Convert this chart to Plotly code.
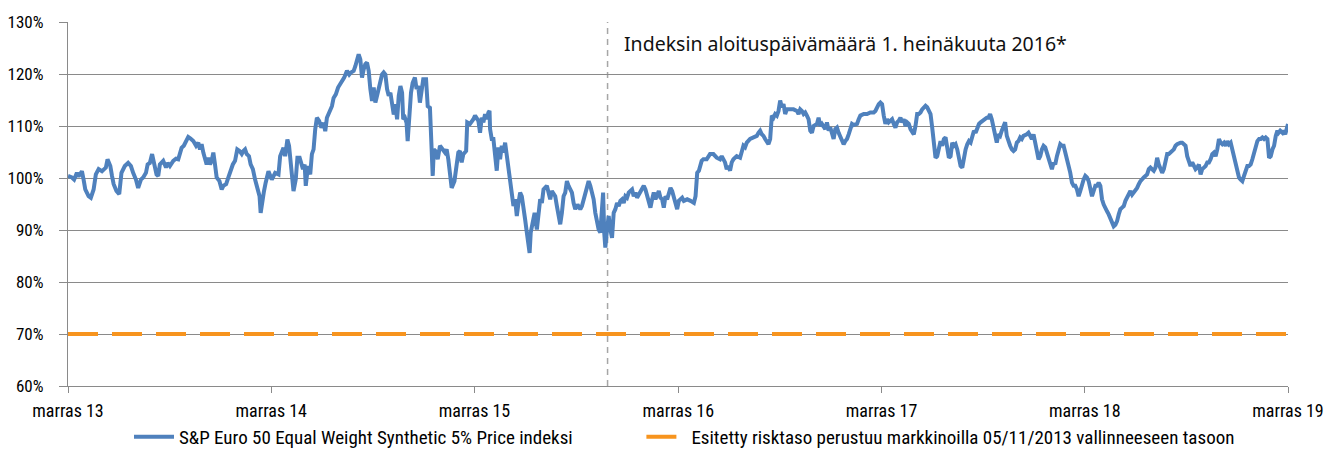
import pandas as pd
import plotly.graph_objects as go

start_date = "2013-11-05"
end_date = "2019-11-05"
index_start_date = "2016-07-01"

# days since start_date, and index level in %
day_offset = [
    0, 7, 11, 16, 19, 25, 28, 31, 37, 41, 46, 50, 55, 61, 65, 68, 71, 76, 79, 82,
    87, 92, 96, 102, 108, 113, 117, 122, 126, 131, 135, 140, 143, 147, 151, 155, 159, 162, 165, 171,
    176, 179, 183, 189, 194, 198, 201, 204, 208, 212, 216, 220, 225, 230, 234, 237, 240, 243, 246, 249,
    252, 255, 258, 261, 264, 267, 272, 276, 279, 284, 288, 292, 296, 300, 304, 308, 312, 315, 318, 321,
    325, 328, 332, 336, 340, 344, 346, 349, 352, 355,
    360, 366, 372, 378, 381, 387, 390, 394, 397, 400, 403, 405, 409, 412, 416, 419, 422, 425, 427, 431,
    435, 438, 441, 444, 447, 451, 455, 459, 462, 465, 469, 474, 477, 481, 485, 489, 492, 496, 501, 505,
    508, 513, 516, 519, 522, 525, 528, 531, 534, 537, 540, 543, 546, 549, 552, 555, 558, 561, 564, 567,
    570, 573, 576, 579, 582, 585, 588, 591, 594, 597, 600, 602, 605, 608, 610, 613, 616, 619, 623, 626,
    629, 632, 635, 638, 643, 646, 650, 653, 655, 657, 660, 664,
    668, 677, 680, 683, 686, 689, 694, 698, 701, 704, 707, 710, 715, 717, 722, 728, 731, 737, 740, 743,
    746, 749, 752, 755, 757, 758, 761, 764, 767, 770, 773, 776, 779, 782, 785, 788, 791, 794, 797, 800,
    803, 806, 809, 812, 815, 818, 821, 824, 827, 829, 831, 835, 838, 842, 845, 848, 851, 854, 860, 863,
    866, 869, 872, 875, 878, 881, 884, 887, 890, 893, 896, 899, 902, 905, 908, 911, 915, 920, 923, 926,
    929, 932, 935, 938, 941, 944, 947, 950, 953, 956, 959, 961, 963, 965, 968, 971, 974, 977, 980, 983,
    986, 989, 992, 995, 998, 1001, 1004, 1007, 1010, 1013, 1016, 1019, 1022, 1025, 1028, 1034, 1037, 1040, 1043, 1046,
    1049, 1052, 1055, 1058, 1061, 1064, 1067, 1070, 1073, 1076, 1079, 1082, 1085, 1088, 1091, 1094, 1097, 1100, 1103, 1106,
    1112, 1118, 1124, 1127, 1130, 1133, 1136, 1138, 1141, 1147, 1153, 1159, 1165, 1171, 1174, 1177, 1180, 1183, 1186, 1189,
    1192, 1195, 1201, 1207, 1210, 1213, 1216, 1219, 1225, 1231, 1237, 1240, 1243, 1246, 1249, 1252, 1255, 1258, 1261, 1264,
    1267, 1270, 1273, 1276, 1279, 1282, 1285, 1288, 1291, 1297, 1303, 1309, 1312, 1315, 1318, 1321, 1324, 1327, 1330, 1333,
    1336, 1339, 1345, 1348, 1351, 1354, 1357, 1360, 1363, 1366, 1369, 1372, 1375, 1378, 1381, 1384, 1387, 1390, 1393, 1396,
    1399, 1402, 1405, 1408, 1411, 1417, 1420, 1423, 1429, 1435, 1441, 1447, 1450, 1453, 1456, 1459,
    1462, 1465, 1468, 1471, 1474, 1477, 1480, 1483, 1486, 1489, 1492, 1495, 1498, 1501, 1504, 1507, 1510, 1513, 1516, 1519,
    1522, 1525, 1528, 1531, 1534, 1537, 1540, 1543, 1546, 1549, 1552, 1555, 1558, 1561, 1564, 1567, 1570, 1573, 1576, 1579,
    1582, 1585, 1588, 1591, 1594, 1597, 1600, 1603, 1606, 1609, 1612, 1615, 1618, 1621, 1624, 1627, 1630, 1633, 1636, 1639,
    1642, 1645, 1647, 1650, 1653, 1656, 1659, 1662, 1665, 1668, 1671, 1674, 1677, 1680, 1683, 1686, 1689, 1692, 1695, 1698,
    1701, 1704, 1707, 1710, 1713, 1716, 1722, 1725, 1728, 1731, 1734, 1737, 1740, 1743, 1746, 1749, 1752, 1755, 1758, 1761,
    1764, 1767, 1770, 1773, 1776, 1779, 1782, 1785, 1788, 1791, 1794, 1797, 1800, 1803, 1806, 1809, 1812, 1815, 1818, 1821,
    1824, 1827, 1830, 1833, 1836, 1839, 1842, 1845, 1848, 1851, 1854, 1857, 1860, 1863, 1866, 1869, 1872, 1875, 1878, 1881,
    1884, 1887, 1890, 1893, 1896, 1899, 1902, 1905, 1908, 1911, 1914, 1917, 1920, 1923, 1926, 1932, 1938, 1941, 1944, 1947,
    1950, 1953, 1956, 1959, 1962, 1965, 1968, 1971, 1974, 1977, 1980, 1986, 1989, 1992, 1998, 2001, 2004, 2007, 2010, 2013,
    2016, 2019, 2022, 2025, 2028, 2031, 2034, 2037, 2040, 2043, 2046, 2049, 2052, 2055, 2058, 2061, 2064, 2067, 2070, 2073,
    2076, 2079, 2082, 2085, 2088, 2091, 2094, 2097, 2100, 2103, 2106, 2109, 2112, 2115, 2118, 2121, 2124, 2127, 2130, 2133,
    2136, 2139, 2142, 2145, 2148, 2151, 2154, 2157, 2160, 2163, 2166, 2169, 2172, 2174, 2177, 2181, 2183, 2186, 2189, 2191,
]

index_level = [
    100.4, 100.1, 99.7, 101.0, 100.3, 101.3, 99.7, 97.8, 96.5, 96.2, 97.8, 100.7, 101.7, 101.3, 101.7, 102.0, 103.6, 102.3, 100.4, 98.8,
    97.5, 96.9, 101.0, 102.3, 102.9, 102.3, 101.0, 99.7, 98.1, 99.7, 100.1, 101.0, 102.6, 102.9, 104.6, 102.3, 100.7, 100.4, 102.6, 103.3,
    102.0, 102.9, 102.3, 103.3, 103.7, 103.6, 104.9, 105.8, 106.2, 107.1, 107.9, 107.6, 107.1, 106.2, 106.8, 105.5, 106.5, 104.9, 103.3, 102.6,
    103.9, 102.6, 103.3, 104.9, 102.6, 100.1, 99.4, 97.8, 98.5, 98.8, 100.1, 101.7, 102.6, 103.3, 105.5, 105.2, 104.6, 105.2, 105.5, 104.6,
    104.2, 102.6, 101.7, 99.7, 98.1, 96.5, 93.3, 95.9, 97.5, 99.1,
    101.3, 99.7, 101.0, 100.7, 104.2, 105.8, 104.2, 107.4, 106.2, 102.9, 99.7, 97.5, 99.7, 103.9, 103.9, 102.9, 101.7, 102.6, 98.5, 102.3,
    100.7, 104.6, 105.5, 109.4, 111.6, 111.0, 109.7, 110.6, 109.0, 111.6, 112.6, 113.8, 115.4, 116.1, 117.4, 118.0, 118.7, 119.3, 120.6, 119.9,
    120.3, 120.6, 121.5, 122.8, 123.8, 122.8, 119.3, 120.9, 121.9, 122.2, 120.6, 117.1, 114.8, 117.4, 114.5, 115.8, 117.1, 119.0, 119.9, 120.3,
    119.9, 117.1, 115.8, 116.4, 114.2, 112.2, 114.2, 111.3, 115.8, 117.7, 116.4, 111.3, 111.6, 110.6, 107.1, 111.9, 116.4, 118.3, 119.3, 117.1,
    117.7, 114.5, 117.4, 119.0, 119.0, 113.8, 113.5, 107.4, 100.4, 105.5, 105.2, 103.6,
    106.2, 104.9, 105.5, 103.6, 100.4, 98.1, 99.4, 103.6, 104.9, 105.2, 103.0, 104.6, 105.2, 110.7, 110.4, 111.3, 112.0, 111.0, 108.7, 111.6,
    110.7, 112.3, 111.3, 112.6, 112.9, 109.4, 107.5, 107.5, 104.6, 101.4, 105.9, 103.6, 106.2, 104.9, 106.8, 104.2, 101.7, 99.1, 97.2, 94.6,
    95.9, 92.7, 95.2, 97.2, 96.5, 93.3, 92.0, 89.5, 86.9, 85.6, 89.5, 92.0, 93.3, 90.1, 94.0, 95.9, 95.2, 97.8, 98.5, 97.2,
    95.9, 97.5, 96.8, 96.5, 94.6, 92.7, 91.1, 93.3, 96.5, 97.2, 99.4, 98.5, 97.8, 97.2, 95.2, 94.0, 94.9, 94.0, 94.6, 95.9,
    97.2, 98.8, 99.4, 98.5, 97.5, 95.9, 93.3, 91.4, 90.1, 89.5, 95.2, 97.2, 89.5, 86.6, 90.1, 92.7, 90.1, 88.5, 93.3, 94.0,
    95.2, 94.6, 95.6, 95.9, 95.2, 96.5, 96.2, 97.2, 97.5, 97.8, 96.5, 97.2, 96.2, 96.8, 97.2, 98.5, 97.8, 96.5, 95.9, 94.3,
    95.9, 97.2, 95.9, 96.5, 97.5, 96.2, 95.9, 94.3, 96.5, 95.9, 97.2, 98.1, 97.5, 96.2, 94.6, 94.0, 95.6, 95.9, 96.2, 95.6,
    95.9, 95.6, 95.2, 96.5, 101.0, 101.4, 103.0, 103.3, 103.6, 103.6, 104.6, 104.6, 103.9, 103.6, 104.2, 103.6, 103.0, 101.7, 102.3, 101.4,
    103.0, 103.6, 104.2, 103.9, 105.5, 106.2, 105.9, 106.8, 107.5, 107.8, 108.1, 108.7, 109.1, 108.4, 108.1, 107.5, 107.1, 106.5, 107.5, 112.0,
    111.6, 112.3, 112.0, 112.9, 114.9, 113.6, 114.2, 112.3, 113.2, 113.2, 113.2, 112.9, 112.3, 113.2, 112.9, 112.3, 112.6, 112.0, 111.3, 109.1,
    108.7, 110.0, 110.4, 111.6, 110.0, 110.4, 109.7, 109.4, 110.7, 109.1, 109.7, 108.4, 107.5, 109.4, 109.7, 108.7, 108.1, 107.1, 106.5, 107.1,
    107.5, 108.4, 109.4, 110.4, 110.2, 110.4, 111.3, 112.0, 112.3, 112.3, 112.6, 112.6, 112.9, 113.6, 114.2, 114.5,
    114.2, 112.0, 110.4, 111.3, 110.7, 111.0, 111.3, 110.4, 109.7, 110.7, 111.0, 111.6, 110.7, 111.3, 110.0, 110.7, 110.4, 109.4, 108.7, 108.4,
    110.0, 112.3, 112.3, 112.6, 113.2, 113.6, 113.9, 113.6, 112.9, 112.3, 109.7, 106.8, 103.9, 104.2, 105.9, 107.1, 106.2, 107.5, 107.8, 105.5,
    103.9, 104.2, 106.8, 106.2, 106.5, 105.5, 103.6, 102.3, 102.0, 104.2, 105.5, 106.5, 107.1, 106.8, 108.1, 109.1, 108.7, 109.7, 110.4, 110.7,
    111.0, 111.3, 111.3, 111.6, 111.6, 112.3, 111.3, 109.7, 107.5, 106.8, 108.4, 108.1, 109.1, 109.7, 110.7, 108.1, 106.8, 106.2, 105.5, 105.2,
    105.5, 106.8, 107.1, 107.8, 107.5, 108.1, 108.4, 108.7, 108.1, 107.5, 108.4, 107.1, 105.2, 103.6, 104.2, 105.5, 106.2, 105.9, 104.9, 103.9,
    102.3, 101.7, 103.0, 102.6, 104.2, 105.5, 106.5, 106.2, 106.2, 104.9, 103.9, 102.3, 101.0, 99.1, 98.5, 98.5, 97.8, 96.5, 97.5, 98.8,
    99.7, 100.4, 100.1, 99.4, 98.1, 96.5, 97.5, 98.5, 98.5, 99.1, 98.5, 95.9, 94.9, 94.0, 93.6, 93.0, 92.3, 91.7, 90.7, 91.0,
    91.7, 93.0, 94.0, 94.3, 94.6, 95.6, 96.2, 97.2, 97.5, 96.8, 97.2, 97.8, 98.1, 98.8, 99.4, 100.1, 100.7, 101.7, 102.0, 101.7,
    101.4, 102.0, 103.9, 102.6, 101.7, 101.0, 101.7, 103.6, 104.6, 104.6, 104.9, 105.5, 106.2, 106.5, 106.8, 106.8, 106.5, 106.2, 104.2, 103.0,
    102.3, 103.0, 102.3, 101.7, 102.0, 102.6, 100.7, 101.7, 102.0, 102.3, 103.0, 103.0, 103.6, 104.6, 104.9, 104.2, 105.5, 107.5, 106.8, 106.5,
    106.8, 106.2, 107.1, 106.5, 106.8, 105.5, 104.2, 102.3, 101.0, 100.1, 99.7, 99.4, 100.4, 101.7, 102.3, 102.3, 102.6, 103.6, 104.9, 106.5,
    107.1, 107.5, 107.5, 107.8, 107.5, 107.8, 107.5, 103.9, 104.2, 105.5, 106.2, 108.1, 109.1, 108.7, 109.1, 108.7, 109.1, 108.4, 109.4, 110.4,
]

risk_level_dates = [start_date, end_date]
risk_level_values = [70, 70]

tick_dates = ["2013-11-05", "2014-11-05", "2015-11-05", "2016-11-05",
              "2017-11-05", "2018-11-05", "2019-11-05"]
tick_labels = ["marras 13", "marras 14", "marras 15", "marras 16",
               "marras 17", "marras 18", "marras 19"]
y_ticks = [60, 70, 80, 90, 100, 110, 120, 130]
y_labels = [f"{v}%" for v in y_ticks]

series_name = "S&P Euro 50 Equal Weight Synthetic 5% Price indeksi"
risk_name = "Esitetty risktaso perustuu markkinoilla 05/11/2013 vallinneeseen tasoon"
note_text = "Indeksin aloituspäivämäärä 1. heinäkuuta 2016*"

dates = pd.Timestamp(start_date) + pd.to_timedelta(day_offset, unit="D")

NARROW = "'Roboto Condensed', 'Liberation Sans Narrow', sans-serif"
GRID = "#8a8a8a"
legend_font = dict(family=NARROW, size=19, color="#000000")

fig = go.Figure()
fig.add_trace(go.Scatter(
    x=dates, y=index_level, mode="lines", name=series_name, legend="legend",
    line=dict(color="#4F81BD", width=4),
))
fig.add_trace(go.Scatter(
    x=pd.to_datetime(risk_level_dates), y=risk_level_values, mode="lines", name=risk_name,
    legend="legend2",
    line=dict(color="#F7941E", width=4, dash="30px,14px"),
))

fig.add_shape(
    type="line", xref="x", yref="paper",
    x0=index_start_date, x1=index_start_date, y0=0, y1=1,
    line=dict(color="#a6a6a6", width=1.5, dash="6px,5px"),
    layer="below",
)
fig.add_annotation(
    x=index_start_date, xref="x", y=0.94, yref="paper",
    text=note_text, showarrow=False, xanchor="left", yanchor="middle", xshift=14,
    font=dict(family="'Noto Sans', 'Open Sans', sans-serif", size=19.5, color="#111111"),
)

fig.update_layout(
    width=1326, height=473,
    margin=dict(l=68, r=38, t=22, b=87, autoexpand=False),
    paper_bgcolor="white", plot_bgcolor="white",
    showlegend=True,
    legend=dict(
        orientation="h", x=0.05, xanchor="left", y=-0.14, yanchor="middle",
        font=legend_font, itemwidth=40, bgcolor="rgba(0,0,0,0)",
    ),
    legend2=dict(
        orientation="h", x=0.47, xanchor="left", y=-0.14, yanchor="middle",
        font=legend_font, itemwidth=40, bgcolor="rgba(0,0,0,0)",
    ),
    xaxis=dict(
        type="date", automargin=False,
        range=[pd.Timestamp(start_date), pd.Timestamp(end_date)],
        tickvals=pd.to_datetime(tick_dates), ticktext=tick_labels,
        showgrid=False, showline=True, linecolor=GRID, linewidth=1.3,
        ticks="outside", ticklen=6, tickcolor=GRID, tickwidth=1.3,
        tickfont=dict(family=NARROW, size=18, color="#000000"),
        ticklabelstandoff=2, ticklabeloverflow="allow",
        zeroline=False,
    ),
    yaxis=dict(
        range=[60, 130], tickvals=y_ticks, ticktext=y_labels, automargin=False,
        showgrid=True, gridcolor=GRID, gridwidth=1.3,
        showline=True, linecolor=GRID, linewidth=1.3,
        ticks="outside", ticklen=8, tickcolor=GRID, tickwidth=1.3,
        tickfont=dict(family=NARROW, size=17, color="#000000"),
        ticklabelstandoff=12,
        zeroline=False,
    ),
)

fig.write_html(
    "out.html",
    config={"displayModeBar": False},
    post_script="document.body.style.margin='0';document.body.style.overflow='hidden';",
)
